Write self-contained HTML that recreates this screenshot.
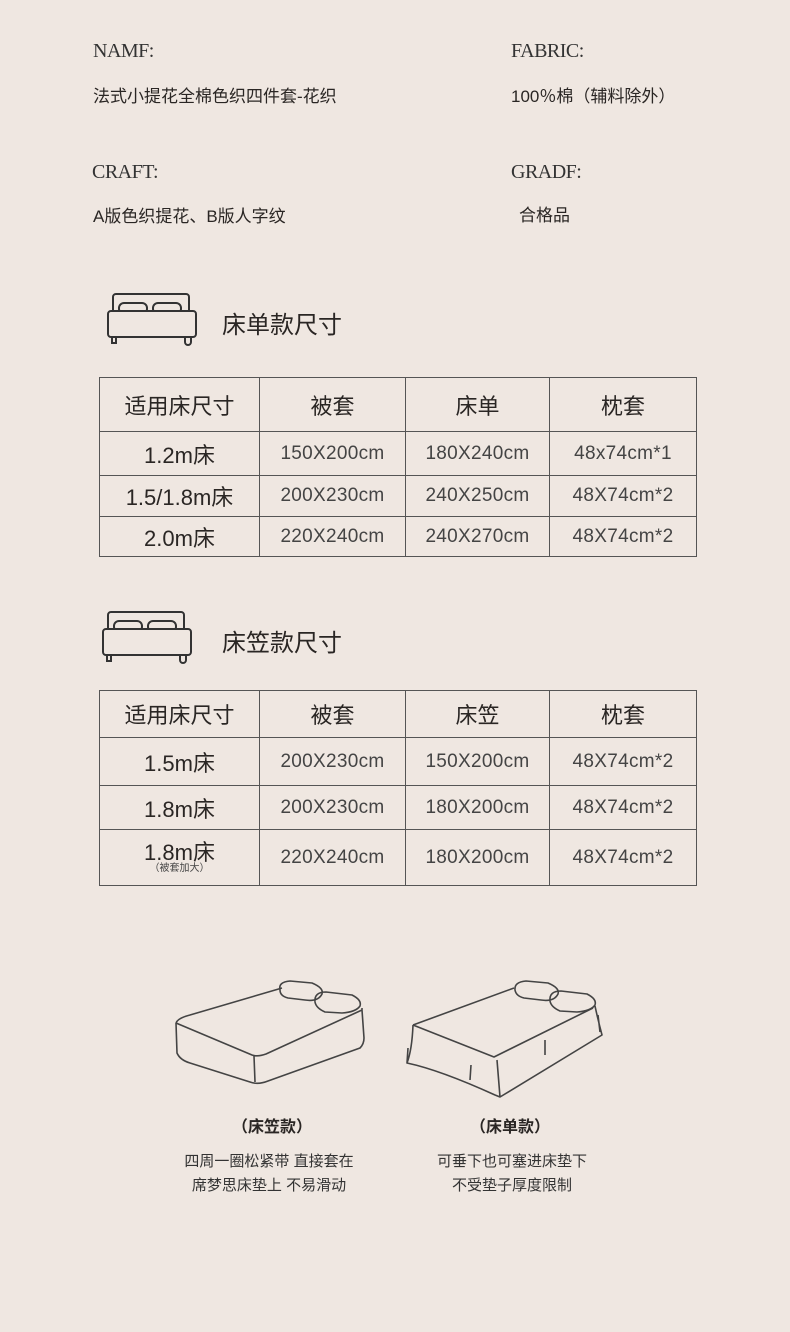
<!DOCTYPE html>
<html><head><meta charset="utf-8"><style>
*{margin:0;padding:0;box-sizing:border-box}
body{width:790px;height:1332px;background:#efe7e1;position:relative;overflow:hidden;font-family:"Liberation Sans","Noto Sans CJK SC",sans-serif;color:#2a2624}
.a{position:absolute;white-space:nowrap}
.lbl{font-family:"Liberation Serif",serif;font-size:20px;letter-spacing:-0.5px;color:#333}
.v{font-size:17px}
table{position:absolute;left:99px;border-collapse:collapse;width:597px;table-layout:fixed}
td{border:1.5px solid #555;text-align:center;font-size:19px;letter-spacing:0.3px;color:#444;padding:0}
td.h{font-size:22px;color:#2a2624;letter-spacing:0}
td.s{font-size:22px;color:#2a2624;letter-spacing:0}
.t{font-size:24px}
.c{font-size:15px;color:#333;text-align:center;width:220px;line-height:24px}
</style></head><body>
<div class="a lbl" style="left:93px;top:40px">NAMF:</div>
<div class="a v" style="left:93px;top:82px">法式小提花全棉色织四件套-花织</div>
<div class="a lbl" style="left:511px;top:40px">FABRIC:</div>
<div class="a v" style="left:511px;top:82px">100％棉（辅料除外）</div>
<div class="a lbl" style="left:92px;top:161px">CRAFT:</div>
<div class="a v" style="left:93px;top:202px">A版色织提花、B版人字纹</div>
<div class="a lbl" style="left:511px;top:161px">GRADF:</div>
<div class="a v" style="left:519px;top:201px">合格品</div>

<svg class="a" style="left:105px;top:290px" width="96" height="56" viewBox="0 0 96 56" fill="none" stroke="#333" stroke-width="2">
<rect x="8" y="4" width="76" height="20" rx="3"/><rect x="14" y="13" width="28" height="11" rx="5"/><rect x="48" y="13" width="28" height="11" rx="5"/>
<rect x="3" y="21" width="88" height="26" rx="3" fill="#efe7e1"/><path d="M7 47v6h4v-6M80 47v5a3 3 0 0 0 6 0v-5"/></svg>
<div class="a t" style="left:222px;top:305px">床单款尺寸</div>

<table style="top:377px"><colgroup><col style="width:160px"><col style="width:146px"><col style="width:144px"><col style="width:147px"></colgroup>
<tr style="height:54px"><td class="h">适用床尺寸</td><td class="h">被套</td><td class="h">床单</td><td class="h">枕套</td></tr>
<tr style="height:44px"><td class="s">1.2m床</td><td>150X200cm</td><td>180X240cm</td><td>48x74cm*1</td></tr>
<tr style="height:41px"><td class="s">1.5/1.8m床</td><td>200X230cm</td><td>240X250cm</td><td>48X74cm*2</td></tr>
<tr style="height:40px"><td class="s">2.0m床</td><td>220X240cm</td><td>240X270cm</td><td>48X74cm*2</td></tr>
</table>

<svg class="a" style="left:100px;top:608px" width="96" height="56" viewBox="0 0 96 56" fill="none" stroke="#333" stroke-width="2">
<rect x="8" y="4" width="76" height="20" rx="3"/><rect x="14" y="13" width="28" height="11" rx="5"/><rect x="48" y="13" width="28" height="11" rx="5"/>
<rect x="3" y="21" width="88" height="26" rx="3" fill="#efe7e1"/><path d="M7 47v6h4v-6M80 47v5a3 3 0 0 0 6 0v-5"/></svg>
<div class="a t" style="left:222px;top:623px">床笠款尺寸</div>

<table style="top:690px"><colgroup><col style="width:160px"><col style="width:146px"><col style="width:144px"><col style="width:147px"></colgroup>
<tr style="height:47px"><td class="h">适用床尺寸</td><td class="h">被套</td><td class="h">床笠</td><td class="h">枕套</td></tr>
<tr style="height:48px"><td class="s">1.5m床</td><td>200X230cm</td><td>150X200cm</td><td>48X74cm*2</td></tr>
<tr style="height:44px"><td class="s">1.8m床</td><td>200X230cm</td><td>180X200cm</td><td>48X74cm*2</td></tr>
<tr style="height:56px"><td class="s" style="line-height:22px">1.8m床<br><span style="font-size:10px;display:block;line-height:10px;color:#444">（被套加大）</span></td><td>220X240cm</td><td>180X200cm</td><td>48X74cm*2</td></tr>
</table>

<svg class="a" style="left:0;top:960px" width="790" height="150" fill="none" stroke="#444" stroke-width="1.6" stroke-linejoin="round">
<path d="M176 63 Q178 58 190 55 L282 28 M176 63 L252 95 Q258 97 266 94 L362 50 L362 48 M176 63 L177 93 Q180 100 190 103 L250 122 Q258 125 268 121 L360 88 Q364 84 364 78 L362 50 M254 96 L255 122"/>
<path d="M280 30 Q278 22 290 21 L312 23 Q324 28 322 34 Q318 42 305 40 L288 38 Q280 36 280 30Z M315 42 Q314 32 326 32 L352 35 Q362 40 360 46 Q356 52 342 53 L325 52 Q316 48 315 42Z"/>
<path d="M413 65 L514 28 M413 65 Q412 90 407 103 Q440 110 495 135 L500 137 L602 75 Q598 60 595 46 M413 65 L494 97 L593 48 M407 103 L408 88 M500 137 L497 100 M545 95 L545 80 M470 120 L471 105 M600 72 L598 55"/>
<path d="M515 30 Q514 22 526 21 L548 23 Q560 28 558 34 Q554 42 541 40 L524 38 Q516 36 515 30Z M550 41 Q549 31 561 31 L587 34 Q597 39 595 45 Q591 51 577 52 L560 51 Q551 47 550 41Z"/>
</svg>

<div class="a" style="left:232px;top:1113px;font-size:16px;font-weight:bold">（床笠款）</div>
<div class="a" style="left:470px;top:1113px;font-size:16px;font-weight:bold">（床单款）</div>
<div class="a c" style="left:159px;top:1150px">四周一圈松紧带 直接套在<br>席梦思床垫上 不易滑动</div>
<div class="a c" style="left:402px;top:1150px">可垂下也可塞进床垫下<br>不受垫子厚度限制</div>
</body></html>
